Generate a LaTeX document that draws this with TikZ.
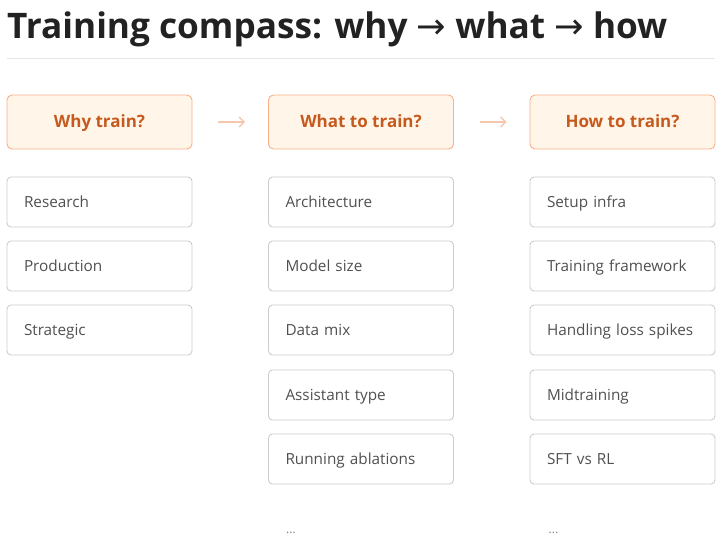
\documentclass[tikz,border=0pt]{standalone}
\usepackage{fontspec}
\setmainfont{Open Sans}
\newfontfamily\arrowfont{DejaVu Sans}
\usetikzlibrary{arrows.meta}

\definecolor{hdrfill}{HTML}{FFF5E8}
\definecolor{hdrline}{HTML}{F7B088}
\definecolor{hdrtext}{HTML}{C65A1E}
\definecolor{itemline}{HTML}{CCCCCC}
\definecolor{itemtext}{HTML}{505050}
\definecolor{flowarrow}{HTML}{F5C8AE}
\definecolor{titletext}{HTML}{222222}

\tikzset{
	header/.style = {draw = hdrline, fill = hdrfill, line width = 0.9pt,
					 rounded corners = 5pt,
					 minimum width = 185pt, minimum height = 54pt,
					 text height = 13pt, text depth = 3pt,
					 text = hdrtext, font = \fontsize{17}{20}\selectfont\bfseries},
	item/.style = {draw = itemline, line width = 0.9pt, rounded corners = 4pt,
				   minimum width = 185pt, minimum height = 50pt,
				   inner xsep = 17pt, text width = 151pt, align = left,
				   text height = 12.5pt, text depth = 1pt,
				   text = itemtext, font = \fontsize{15.3}{18}\selectfont},
	flow/.style = {draw = flowarrow, line width = 1.4pt,
				   -{Straight Barb[length = 5pt, width = 10pt]},
				   shorten < = 26pt, shorten > = 23pt},
	more/.style = {text = gray, font = \fontsize{12}{14}\selectfont}
}

\begin{document}
\begin{tikzpicture}[x = 1pt, y = -1pt]
	\useasboundingbox (0, 0) rectangle (720, 539);

	% title and rule
	\draw (7, 38) node[anchor = base west,
					   inner sep = 0pt,
					   text = titletext,
					   font = \fontsize{35.2}{40}\selectfont\bfseries
				](title){Training compass: why {\arrowfont\mdseries →} what {\arrowfont\mdseries →} how};
	\coordinate (ruleL) at (7, 58);
	\coordinate (ruleR) at (715, 58);
	\draw[draw = black!10, line width = 0.8pt] (ruleL) -- (ruleR);

	% headers
	\draw (99.5, 122) node[header](why){Why train?};
	\draw (361, 122) node[header](what){What to train?};
	\draw (622.5, 122) node[header](how){How to train?};

	\draw[flow] (why) -- (what);
	\draw[flow] (what) -- (how);

	% why
	\draw (99.5, 202) node[item](why1){Research};
	\draw (99.5, 266) node[item](why2){Production};
	\draw (99.5, 330) node[item](why3){Strategic};

	% what
	\draw (361, 202) node[item](what1){Architecture};
	\draw (361, 266) node[item](what2){Model size};
	\draw (361, 330) node[item](what3){Data mix};
	\draw (361, 395) node[item](what4){Assistant type};
	\draw (361, 459) node[item](what5){Running ablations};
	\draw (291, 533) node[more](whatmore){...};

	% how
	\draw (622.5, 202) node[item](how1){Setup infra};
	\draw (622.5, 266) node[item](how2){Training framework};
	\draw (622.5, 330) node[item](how3){Handling loss spikes};
	\draw (622.5, 395) node[item](how4){Midtraining};
	\draw (622.5, 459) node[item](how5){SFT vs RL};
	\draw (553.5, 533) node[more](howmore){...};
\end{tikzpicture}
\end{document}
